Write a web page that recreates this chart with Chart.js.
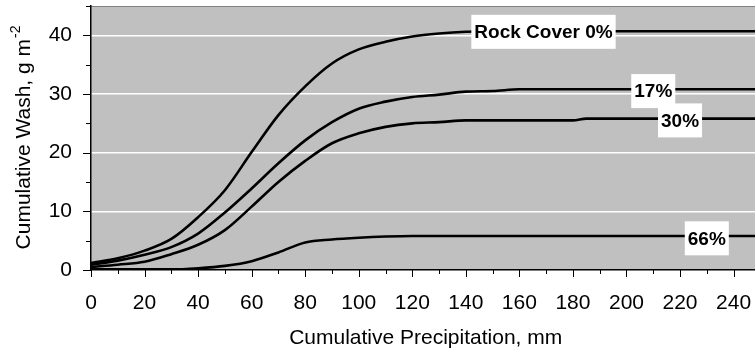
<!DOCTYPE html>
<html>
<head>
<meta charset="utf-8">
<script src="https://cdn.jsdelivr.net/npm/chart.js@4"></script>
<style>
  html, body { margin: 0; padding: 0; background: #fff; }
  #wrap { width: 755px; height: 353px; }
</style>
</head>
<body>
<div id="wrap"><canvas id="washChart"></canvas></div>
<script>
// cumulative precipitation, mm
const precip = [0, 10, 20, 30, 40, 50, 60, 70, 80, 90, 100, 110, 120, 130, 140, 150, 160, 170, 180, 185, 190, 200, 210, 220, 230, 240, 248];

// cumulative wash, g m-2, per rock cover
const cover0 = [1.2, 2.0, 3.3, 5.3, 9.0, 13.6, 20.1, 26.4, 31.3, 35.2, 37.6, 38.9, 39.8, 40.3, 40.6, 40.7, 40.7, 40.7, 40.7, 40.7, 40.7, 40.7, 40.7, 40.7, 40.7, 40.7, 40.7];
const cover17 = [0.9, 1.6, 2.6, 3.9, 6.2, 9.8, 13.9, 18.2, 22.1, 25.2, 27.5, 28.7, 29.5, 29.9, 30.4, 30.5, 30.8, 30.8, 30.8, 30.8, 30.8, 30.8, 30.8, 30.8, 30.8, 30.8, 30.8];
const cover30 = [0.5, 0.9, 1.4, 2.7, 4.3, 6.8, 10.8, 15.0, 18.6, 21.6, 23.3, 24.4, 25.0, 25.2, 25.5, 25.5, 25.5, 25.5, 25.5, 25.8, 25.8, 25.8, 25.8, 25.8, 25.8, 25.8, 25.8];
const cover66 = [0.1, 0.1, 0.1, 0.1, 0.3, 0.7, 1.5, 3.0, 4.7, 5.2, 5.5, 5.7, 5.8, 5.8, 5.8, 5.8, 5.8, 5.8, 5.8, 5.8, 5.8, 5.8, 5.8, 5.8, 5.8, 5.8, 5.8];

// in-plot labels (anchored in data units)
const labelText = ['Rock Cover 0%', '17%', '30%', '66%'];
const labelX = [169, 210, 220, 230];
const labelY = [40.6, 30.5, 25.5, 5.4];

const FONT = '"Liberation Sans", Arial, sans-serif';

function toPoints(ys) {
    return precip.map((x, i) => ({ x: x, y: ys[i] }));
}

function lineSet(ys) {
    return {
        data: toPoints(ys),
        borderColor: '#000',
        borderWidth: 2.6,
        pointRadius: 0,
        fill: false,
        cubicInterpolationMode: 'monotone'
    };
}

const plotBg = {
    id: 'plotBg',
    beforeDraw(chart) {
        const a = chart.chartArea;
        const c = chart.ctx;
        c.save();
        c.fillStyle = '#c0c0c0';
        c.fillRect(a.left, a.top, a.right - a.left, a.bottom - a.top);
        c.strokeStyle = '#808080';
        c.lineWidth = 1;
        c.beginPath();
        c.moveTo(a.left, a.top + 0.5);
        c.lineTo(a.right, a.top + 0.5);
        c.stroke();
        c.restore();
    }
};

const extras = {
    id: 'extras',
    afterDatasetsDraw(chart) {
        const c = chart.ctx;
        const xs = chart.scales.x;
        const ys = chart.scales.y;
        const a = chart.chartArea;
        c.save();

        // tick marks, major and minor
        c.strokeStyle = '#000';
        c.lineWidth = 1;
        for (let v = 0; v <= 240; v += 10) {
            const px = Math.round(xs.getPixelForValue(v)) + 0.5;
            const len = v % 20 === 0 ? 7 : 4;
            c.beginPath();
            c.moveTo(px, a.bottom);
            c.lineTo(px, a.bottom + len);
            c.stroke();
        }
        for (let v = 0; v <= 45; v += 5) {
            const py = Math.round(ys.getPixelForValue(v)) + 0.5;
            const len = v % 10 === 0 ? 8 : 5;
            c.beginPath();
            c.moveTo(a.left - len, py);
            c.lineTo(a.left, py);
            c.stroke();
        }

        // series labels in white boxes
        c.font = 'bold 19px ' + FONT;
        c.textAlign = 'center';
        c.textBaseline = 'middle';
        labelText.forEach((t, i) => {
            const cx = xs.getPixelForValue(labelX[i]);
            const cy = ys.getPixelForValue(labelY[i]);
            const w = c.measureText(t).width + 6;
            const h = 34;
            c.fillStyle = '#fff';
            c.fillRect(cx - w / 2, cy - h / 2, w, h);
            c.fillStyle = '#000';
            c.fillText(t, cx, cy + 1);
        });

        // axis titles
        c.font = '21px ' + FONT;
        c.fillStyle = '#000';
        c.textAlign = 'center';
        c.textBaseline = 'middle';
        c.fillText('Cumulative Precipitation, mm', xs.getPixelForValue(125), 338);

        const main = 'Cumulative Wash, g m';
        const sup = '-2';
        c.translate(22, (a.top + a.bottom) / 2);
        c.rotate(-Math.PI / 2);
        const wMain = c.measureText(main).width;
        c.font = '14px ' + FONT;
        const wSup = c.measureText(sup).width;
        const start = -(wMain + wSup) / 2;
        c.textAlign = 'left';
        c.textBaseline = 'alphabetic';
        c.font = '21px ' + FONT;
        c.fillText(main, start, 8);
        c.font = '14px ' + FONT;
        c.fillText(sup, start + wMain + 1, -2);
        c.restore();
    }
};

const ctx = document.getElementById('washChart').getContext('2d');
const chart = new Chart(ctx, {
    type: 'line',
    data: {
        datasets: [lineSet(cover0), lineSet(cover17), lineSet(cover30), lineSet(cover66)]
    },
    options: {
        responsive: true,
        maintainAspectRatio: false,
        animation: false,
        layout: { padding: { top: 6, left: 0, right: 0, bottom: 0 } },
        plugins: {
            legend: { display: false },
            tooltip: { enabled: false }
        },
        scales: {
            x: {
                type: 'linear',
                min: 0,
                max: 248,
                afterFit: s => {
                    s.height = 83;
                    s.paddingLeft = 0;
                    s.paddingRight = 0;
                },
                grid: { color: 'transparent', tickLength: 7, tickColor: 'transparent' },
                border: { color: '#000', width: 1.5 },
                ticks: {
                    stepSize: 20,
                    includeBounds: false,
                    maxRotation: 0,
                    autoSkip: false,
                    padding: 14,
                    color: '#000',
                    font: { family: FONT, size: 21 }
                }
            },
            y: {
                min: 0,
                max: 45,
                afterFit: s => {
                    s.width = 91;
                    s.paddingTop = 0;
                    s.paddingBottom = 0;
                },
                grid: {
                    color: c => (c.tick && c.tick.value > 0 && c.tick.value % 10 === 0) ? '#ffffff' : 'transparent',
                    lineWidth: 1.5,
                    tickLength: 8,
                    tickColor: 'transparent'
                },
                border: { color: '#000', width: 1.5 },
                ticks: {
                    stepSize: 5,
                    padding: 11,
                    color: '#000',
                    font: { family: FONT, size: 21 },
                    callback: v => (v % 10 === 0 ? v : '')
                }
            }
        }
    },
    plugins: [plotBg, extras]
});
</script>
</body>
</html>
